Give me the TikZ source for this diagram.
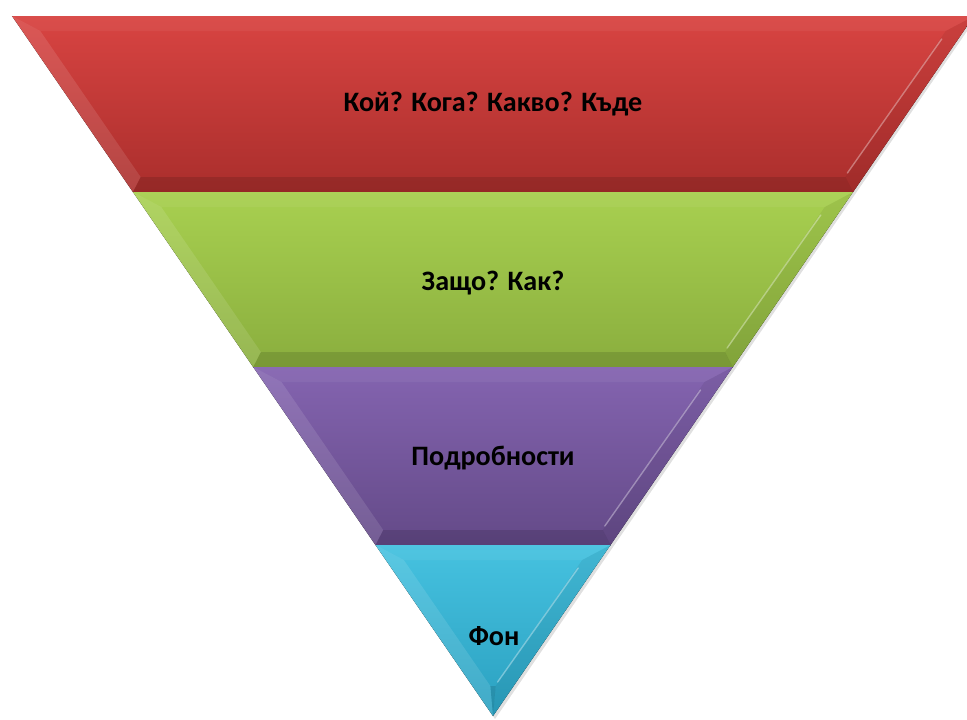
\documentclass[tikz,border=0pt]{standalone}
\usepackage{fontspec}
\setmainfont{Carlito}
\usetikzlibrary{positioning,calc}

\definecolor{redtop}{RGB}{216,68,66}
\definecolor{redbot}{RGB}{170,46,44}
\definecolor{greentop}{RGB}{168,208,80}
\definecolor{greenbot}{RGB}{138,174,62}
\definecolor{purpletop}{RGB}{132,100,176}
\definecolor{purplebot}{RGB}{100,74,136}
\definecolor{cyantop}{RGB}{70,194,224}
\definecolor{cyanbot}{RGB}{42,160,192}

\begin{document}
\begin{tikzpicture}[x=0.3mm,y=-0.3mm,
  level/.style={font=\bfseries\fontsize{24}{28}\selectfont, text=black}]
\useasboundingbox (0,0) rectangle (967,719);

% shadow of the funnel
\fill[black,opacity=0.12] (14,18) -- (976,18) -- (495,719) -- cycle;

\foreach \yt/\yb/\c in {16/192/red, 192/367/green, 367/545/purple, 545/716/cyan}{
  \pgfmathsetmacro\wtop{0.687143*(716-\yt)}
  \pgfmathsetmacro\wbot{0.687143*(716-\yb)}
  \pgfmathsetmacro\yit{\yt+15}
  \pgfmathsetmacro\yib{min(\yb-15,686)}
  \pgfmathsetmacro\wit{0.687143*(716-\yit)-18}
  \pgfmathsetmacro\wib{max(0.687143*(716-\yib)-18,0)}
  % base
  \fill[top color=\c top, bottom color=\c bot]
    (493-\wtop,\yt) -- (493+\wtop,\yt) -- (493+\wbot,\yb) -- (493-\wbot,\yb) -- cycle;
  % left bevel, light
  \fill[white,opacity=0.11]
    (493-\wtop,\yt) -- (493-\wit,\yit) -- (493-\wib,\yib) -- (493-\wbot,\yb) -- cycle;
  % top bevel
  \fill[white,opacity=0.05]
    (493-\wtop,\yt) -- (493+\wtop,\yt) -- (493+\wit,\yit) -- (493-\wit,\yit) -- cycle;
  % right bevel, dark
  \fill[black,opacity=0.06]
    (493+\wtop,\yt) -- (493+\wbot,\yb) -- (493+\wib,\yib) -- (493+\wit,\yit) -- cycle;
  % bottom bevel, dark
  \fill[black,opacity=0.12]
    (493-\wbot,\yb) -- (493+\wbot,\yb) -- (493+\wib,\yib) -- (493-\wib,\yib) -- cycle;
  % glossy line on the right
  \draw[white,opacity=0.35,line width=1.2pt,line cap=round]
    (493+\wit-4,\yit+8) -- (493+\wib+2,\yib-4);
  % dark rim at the bottom edge
  \draw[black,opacity=0.35,line width=0.6pt]
    (493-\wbot,\yb) -- (493+\wbot,\yb);
}

\node[level] (who) at (493,104) {Кой? Кога? Какво? Къде};
\node[level] (why) at (493,283) {Защо? Как?};
\node[level] (details) at (493,458) {Подробности};
\node[level] (bg) at (494,636) {Фон};
\end{tikzpicture}
\end{document}
